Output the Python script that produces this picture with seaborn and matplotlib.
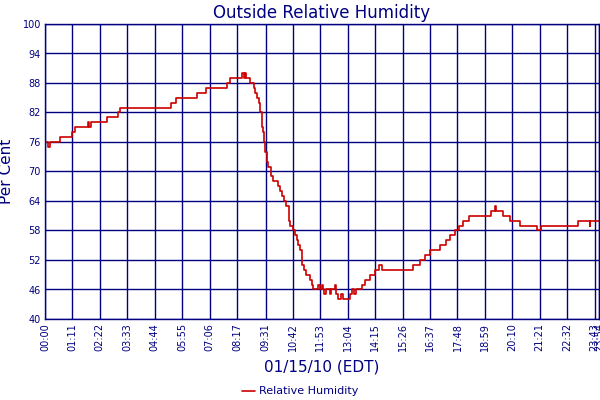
import matplotlib
matplotlib.use("Agg")
import matplotlib.pyplot as plt
import seaborn as sns
import pandas as pd

# step changes: minutes after midnight -> relative humidity (%)
minutes = [0, 9, 14, 39, 71, 78, 111, 114, 119, 161, 189, 193, 326, 339, 394,
           417, 472, 478, 510, 516, 518, 521, 531, 541, 545, 549, 553, 557,
           561, 565, 567, 570, 575, 578, 586, 591, 604, 609, 614, 618, 625,
           633, 635, 642, 648, 652, 656, 659, 666, 671, 677, 687, 691, 695,
           708, 713, 717, 720, 723, 727, 737, 741, 750, 754, 759, 767, 772,
           790, 796, 801, 806, 822, 829, 835, 842, 855, 866, 872, 954, 972,
           984, 996, 1022, 1038, 1049, 1062, 1071, 1082, 1097, 1154, 1165,
           1168, 1187, 1204, 1229, 1273, 1285, 1381, 1410, 1412, 1434]
humidity = [76, 75, 76, 77, 78, 79, 80, 79, 80, 81, 82, 83, 84, 85, 86,
            87, 88, 89, 90, 89, 90, 89, 88, 87, 86, 85, 84, 82,
            79, 78, 76, 74, 72, 71, 69, 68, 67, 66, 65, 64, 63,
            60, 59, 58, 57, 56, 55, 54, 51, 50, 49, 48, 47, 46,
            47, 46, 47, 46, 45, 46, 45, 46, 47, 45, 44, 45, 44,
            45, 46, 45, 46, 47, 48, 48, 49, 50, 51, 50, 51, 52,
            53, 54, 55, 56, 57, 58, 59, 60, 61, 62, 63,
            62, 61, 60, 59, 58, 59, 60, 59, 60, 60]

tick_minutes = [0, 71, 142, 213, 284, 355, 426, 497, 571, 642, 713, 784, 855,
                926, 997, 1068, 1139, 1210, 1281, 1352, 1423, 1434]
tick_labels = ["00:00", "01:11", "02:22", "03:33", "04:44", "05:55", "07:06",
               "08:17", "09:31", "10:42", "11:53", "13:04", "14:15", "15:26",
               "16:37", "17:48", "18:59", "20:10", "21:21", "22:32", "23:43",
               "23:54"]
y_ticks = [40, 46, 52, 58, 64, 70, 76, 82, 88, 94, 100]

navy = "#000080"
red = "#cc0000"

df = pd.DataFrame({"minute": minutes, "Relative Humidity": humidity})

sns.set_style("white")
plt.rcParams["font.family"] = ["DejaVu Sans"]

fig = plt.figure(figsize=(6, 4), dpi=100)
ax = fig.add_axes([0.075, 0.2025, 0.923, 0.7375])

sns.lineplot(data=df, x="minute", y="Relative Humidity", ax=ax, color=red,
             linewidth=1.2, drawstyle="steps-post", label="Relative Humidity",
             legend=False)

ax.set_xlim(0, 1434)
ax.set_ylim(40, 100)
ax.set_xticks(tick_minutes)
ax.set_xticklabels(tick_labels, rotation=90, fontsize=7, color=navy)
ax.set_yticks(y_ticks)
ax.set_yticklabels([str(v) for v in y_ticks], fontsize=7, color=navy)
ax.tick_params(length=0, pad=3)
ax.grid(True, color=navy, linewidth=1)
ax.set_axisbelow(True)
for s in ax.spines.values():
    s.set_color(navy)
    s.set_linewidth(1)

ax.set_title("Outside Relative Humidity", color=navy, fontsize=12, pad=4)
ax.set_ylabel("Per Cent", color=navy, fontsize=11, labelpad=6)
ax.set_xlabel("01/15/10 (EDT)", color=navy, fontsize=11, labelpad=6)

handles, labels = ax.get_legend_handles_labels()
leg = fig.legend(handles, labels, loc="lower center", bbox_to_anchor=(0.5, -0.016),
                 frameon=False, fontsize=8, handlelength=1.2, handletextpad=0.3)
for t in leg.get_texts():
    t.set_color(navy)

fig.savefig("out.png", dpi=100)
